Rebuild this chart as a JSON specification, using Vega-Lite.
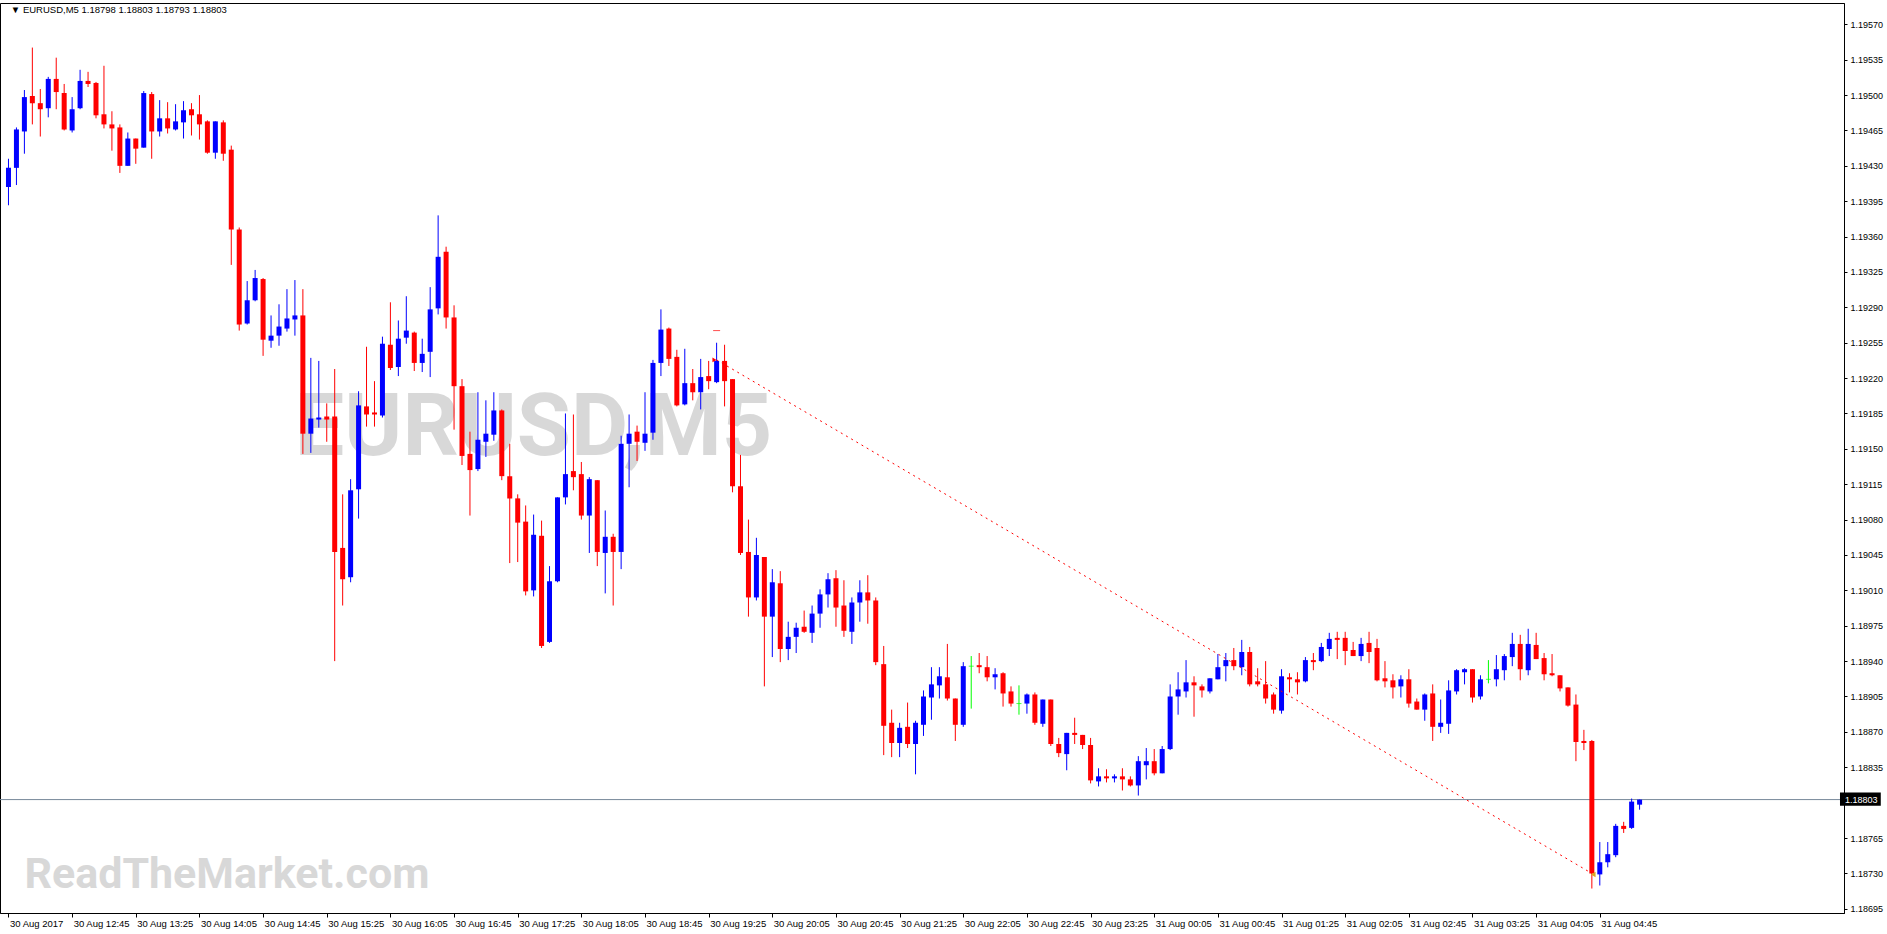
{
"$schema": "https://vega.github.io/schema/vega-lite/v6.json",
"width": 1844,
"height": 910,
"autosize": {"type": "none"},
"padding": {"left": 0, "top": 3, "right": 43, "bottom": 21},
"background": "#ffffff",
"config": {
  "view": {"stroke": "#000000", "strokeWidth": 1},
  "font": "Liberation Sans",
  "axis": {"labelFont": "Liberation Sans", "labelFontSize": 9, "labelColor": "#000000", "domainColor": "#000000", "tickColor": "#000000", "grid": false, "title": null, "labelFlush": false, "labelOverlap": false}
},
"layer": [
{
  "data": {"values": [
    {"t": "2017-08-30 17:35:00", "p": 1.19144, "label": "EURUSD,M5"}
  ], "format": {"parse": {"t": "utc:'%Y-%m-%d %H:%M:%S'"}}},
  "mark": {"type": "text", "font": "Roboto", "fontSize": 88, "fontWeight": "bold", "color": "#d8d8d8", "align": "center", "baseline": "alphabetic"},
  "encoding": {
    "x": {"field": "t", "type": "temporal", "scale": {"type": "utc", "domain": [{"year": 2017, "month": 8, "date": 30, "hours": 12, "minutes": 2, "seconds": 48, "milliseconds": 750, "utc": true}, {"year": 2017, "month": 8, "date": 31, "hours": 7, "minutes": 15, "seconds": 18, "milliseconds": 750, "utc": true}]}},
    "y": {"field": "p", "type": "quantitative", "scale": {"domain": [1.186908, 1.195911], "nice": false, "zero": false}},
    "text": {"field": "label"}
  }
},
{
  "data": {"values": [
    {"t": "2017-08-30 12:15:00", "p": 1.18716, "label": "ReadTheMarket.com"}
  ], "format": {"parse": {"t": "utc:'%Y-%m-%d %H:%M:%S'"}}},
  "mark": {"type": "text", "font": "Roboto", "fontSize": 43, "fontWeight": "bold", "color": "#d8d8d8", "align": "left", "baseline": "alphabetic"},
  "encoding": {
    "x": {"field": "t", "type": "temporal", "scale": {"type": "utc", "domain": [{"year": 2017, "month": 8, "date": 30, "hours": 12, "minutes": 2, "seconds": 48, "milliseconds": 750, "utc": true}, {"year": 2017, "month": 8, "date": 31, "hours": 7, "minutes": 15, "seconds": 18, "milliseconds": 750, "utc": true}]}},
    "y": {"field": "p", "type": "quantitative", "scale": {"domain": [1.186908, 1.195911], "nice": false, "zero": false}},
    "text": {"field": "label"}
  }
},
{
  "data": {"values": [
    {"t": "2017-08-30 12:06:30", "p": 1.19581, "label": "▼ EURUSD,M5  1.18798 1.18803 1.18793 1.18803"}
  ], "format": {"parse": {"t": "utc:'%Y-%m-%d %H:%M:%S'"}}},
  "mark": {"type": "text", "font": "Liberation Sans", "fontSize": 9.5, "color": "#000000", "align": "left", "baseline": "alphabetic"},
  "encoding": {
    "x": {"field": "t", "type": "temporal", "scale": {"type": "utc", "domain": [{"year": 2017, "month": 8, "date": 30, "hours": 12, "minutes": 2, "seconds": 48, "milliseconds": 750, "utc": true}, {"year": 2017, "month": 8, "date": 31, "hours": 7, "minutes": 15, "seconds": 18, "milliseconds": 750, "utc": true}]}},
    "y": {"field": "p", "type": "quantitative", "scale": {"domain": [1.186908, 1.195911], "nice": false, "zero": false}},
    "text": {"field": "label"}
  }
},
{
  "data": {"values": [{"p": 1.18803}]},
  "mark": {"type": "rule", "color": "#778899", "strokeWidth": 1},
  "encoding": {
    "y": {"field": "p", "type": "quantitative", "scale": {"domain": [1.186908, 1.195911], "nice": false, "zero": false}}
  }
},
{
  "data": {"values": [
{"t":"2017-08-30 12:05","o":1.19409,"h":1.19437,"l":1.19391,"c":1.19428},
{"t":"2017-08-30 12:10","o":1.19428,"h":1.19468,"l":1.19411,"c":1.19466},
{"t":"2017-08-30 12:15","o":1.19464,"h":1.19505,"l":1.19442,"c":1.19498},
{"t":"2017-08-30 12:20","o":1.19499,"h":1.19547,"l":1.19471,"c":1.19492},
{"t":"2017-08-30 12:25","o":1.19492,"h":1.19506,"l":1.19459,"c":1.19486},
{"t":"2017-08-30 12:30","o":1.19487,"h":1.19518,"l":1.19478,"c":1.19516},
{"t":"2017-08-30 12:35","o":1.19516,"h":1.19537,"l":1.19486,"c":1.19503},
{"t":"2017-08-30 12:40","o":1.19502,"h":1.19511,"l":1.19465,"c":1.19466},
{"t":"2017-08-30 12:45","o":1.19465,"h":1.19498,"l":1.19463,"c":1.19486},
{"t":"2017-08-30 12:50","o":1.19487,"h":1.19525,"l":1.19486,"c":1.19514},
{"t":"2017-08-30 12:55","o":1.19514,"h":1.19523,"l":1.19508,"c":1.19511},
{"t":"2017-08-30 13:00","o":1.19512,"h":1.19513,"l":1.19477,"c":1.19480},
{"t":"2017-08-30 13:05","o":1.19481,"h":1.19529,"l":1.19467,"c":1.19471},
{"t":"2017-08-30 13:10","o":1.19471,"h":1.19484,"l":1.19445,"c":1.19467},
{"t":"2017-08-30 13:15","o":1.19468,"h":1.19471,"l":1.19423,"c":1.19430},
{"t":"2017-08-30 13:20","o":1.19430,"h":1.19463,"l":1.19430,"c":1.19457},
{"t":"2017-08-30 13:25","o":1.19457,"h":1.19457,"l":1.19432,"c":1.19447},
{"t":"2017-08-30 13:30","o":1.19448,"h":1.19504,"l":1.19448,"c":1.19502},
{"t":"2017-08-30 13:35","o":1.19501,"h":1.19503,"l":1.19437,"c":1.19464},
{"t":"2017-08-30 13:40","o":1.19464,"h":1.19495,"l":1.19459,"c":1.19477},
{"t":"2017-08-30 13:45","o":1.19477,"h":1.19493,"l":1.19462,"c":1.19467},
{"t":"2017-08-30 13:50","o":1.19466,"h":1.19491,"l":1.19465,"c":1.19474},
{"t":"2017-08-30 13:55","o":1.19473,"h":1.19494,"l":1.19457,"c":1.19485},
{"t":"2017-08-30 14:00","o":1.19486,"h":1.19492,"l":1.19460,"c":1.19480},
{"t":"2017-08-30 14:05","o":1.19481,"h":1.19500,"l":1.19456,"c":1.19471},
{"t":"2017-08-30 14:10","o":1.19474,"h":1.19475,"l":1.19442,"c":1.19443},
{"t":"2017-08-30 14:15","o":1.19443,"h":1.19474,"l":1.19437,"c":1.19474},
{"t":"2017-08-30 14:20","o":1.19473,"h":1.19475,"l":1.19435,"c":1.19442},
{"t":"2017-08-30 14:25","o":1.19446,"h":1.19450,"l":1.19332,"c":1.19367},
{"t":"2017-08-30 14:30","o":1.19367,"h":1.19369,"l":1.19267,"c":1.19273},
{"t":"2017-08-30 14:35","o":1.19274,"h":1.19316,"l":1.19273,"c":1.19297},
{"t":"2017-08-30 14:40","o":1.19297,"h":1.19327,"l":1.19296,"c":1.19319},
{"t":"2017-08-30 14:45","o":1.19318,"h":1.19319,"l":1.19242,"c":1.19258},
{"t":"2017-08-30 14:50","o":1.19257,"h":1.19282,"l":1.19250,"c":1.19262},
{"t":"2017-08-30 14:55","o":1.19262,"h":1.19293,"l":1.19252,"c":1.19271},
{"t":"2017-08-30 15:00","o":1.19269,"h":1.19308,"l":1.19266,"c":1.19279},
{"t":"2017-08-30 15:05","o":1.19278,"h":1.19317,"l":1.19262,"c":1.19282},
{"t":"2017-08-30 15:10","o":1.19282,"h":1.19308,"l":1.19145,"c":1.19165},
{"t":"2017-08-30 15:15","o":1.19165,"h":1.19240,"l":1.19146,"c":1.19180},
{"t":"2017-08-30 15:20","o":1.19179,"h":1.19237,"l":1.19171,"c":1.19181},
{"t":"2017-08-30 15:25","o":1.19182,"h":1.19195,"l":1.19157,"c":1.19179},
{"t":"2017-08-30 15:30","o":1.19182,"h":1.19229,"l":1.18940,"c":1.19048},
{"t":"2017-08-30 15:35","o":1.19052,"h":1.19105,"l":1.18995,"c":1.19021},
{"t":"2017-08-30 15:40","o":1.19023,"h":1.19120,"l":1.19018,"c":1.19109},
{"t":"2017-08-30 15:45","o":1.19110,"h":1.19207,"l":1.19081,"c":1.19193},
{"t":"2017-08-30 15:50","o":1.19192,"h":1.19251,"l":1.19172,"c":1.19184},
{"t":"2017-08-30 15:55","o":1.19186,"h":1.19217,"l":1.19172,"c":1.19184},
{"t":"2017-08-30 16:00","o":1.19183,"h":1.19261,"l":1.19181,"c":1.19254},
{"t":"2017-08-30 16:05","o":1.19253,"h":1.19295,"l":1.19228,"c":1.19230},
{"t":"2017-08-30 16:10","o":1.19231,"h":1.19277,"l":1.19222,"c":1.19259},
{"t":"2017-08-30 16:15","o":1.19260,"h":1.19301,"l":1.19254,"c":1.19267},
{"t":"2017-08-30 16:20","o":1.19265,"h":1.19266,"l":1.19227,"c":1.19235},
{"t":"2017-08-30 16:25","o":1.19235,"h":1.19259,"l":1.19226,"c":1.19244},
{"t":"2017-08-30 16:30","o":1.19246,"h":1.19310,"l":1.19221,"c":1.19288},
{"t":"2017-08-30 16:35","o":1.19289,"h":1.19381,"l":1.19283,"c":1.19340},
{"t":"2017-08-30 16:40","o":1.19345,"h":1.19350,"l":1.19269,"c":1.19280},
{"t":"2017-08-30 16:45","o":1.19280,"h":1.19292,"l":1.19169,"c":1.19212},
{"t":"2017-08-30 16:50","o":1.19212,"h":1.19219,"l":1.19134,"c":1.19143},
{"t":"2017-08-30 16:55","o":1.19145,"h":1.19167,"l":1.19084,"c":1.19129},
{"t":"2017-08-30 17:00","o":1.19130,"h":1.19206,"l":1.19128,"c":1.19159},
{"t":"2017-08-30 17:05","o":1.19157,"h":1.19198,"l":1.19142,"c":1.19165},
{"t":"2017-08-30 17:10","o":1.19164,"h":1.19206,"l":1.19158,"c":1.19188},
{"t":"2017-08-30 17:15","o":1.19188,"h":1.19189,"l":1.19119,"c":1.19123},
{"t":"2017-08-30 17:20","o":1.19123,"h":1.19155,"l":1.19037,"c":1.19101},
{"t":"2017-08-30 17:25","o":1.19101,"h":1.19105,"l":1.19038,"c":1.19077},
{"t":"2017-08-30 17:30","o":1.19078,"h":1.19094,"l":1.19005,"c":1.19009},
{"t":"2017-08-30 17:35","o":1.19010,"h":1.19085,"l":1.19004,"c":1.19065},
{"t":"2017-08-30 17:40","o":1.19064,"h":1.19079,"l":1.18953,"c":1.18955},
{"t":"2017-08-30 17:45","o":1.18959,"h":1.19034,"l":1.18958,"c":1.19019},
{"t":"2017-08-30 17:50","o":1.19019,"h":1.19102,"l":1.19018,"c":1.19102},
{"t":"2017-08-30 17:55","o":1.19102,"h":1.19185,"l":1.19095,"c":1.19125},
{"t":"2017-08-30 18:00","o":1.19128,"h":1.19184,"l":1.19109,"c":1.19122},
{"t":"2017-08-30 18:05","o":1.19125,"h":1.19137,"l":1.19080,"c":1.19084},
{"t":"2017-08-30 18:10","o":1.19084,"h":1.19122,"l":1.19047,"c":1.19120},
{"t":"2017-08-30 18:15","o":1.19119,"h":1.19119,"l":1.19034,"c":1.19048},
{"t":"2017-08-30 18:20","o":1.19047,"h":1.19089,"l":1.19007,"c":1.19063},
{"t":"2017-08-30 18:25","o":1.19063,"h":1.19066,"l":1.18995,"c":1.19048},
{"t":"2017-08-30 18:30","o":1.19048,"h":1.19163,"l":1.19031,"c":1.19155},
{"t":"2017-08-30 18:35","o":1.19155,"h":1.19184,"l":1.19112,"c":1.19165},
{"t":"2017-08-30 18:40","o":1.19167,"h":1.19173,"l":1.19138,"c":1.19157},
{"t":"2017-08-30 18:45","o":1.19156,"h":1.19206,"l":1.19148,"c":1.19165},
{"t":"2017-08-30 18:50","o":1.19166,"h":1.19238,"l":1.19159,"c":1.19235},
{"t":"2017-08-30 18:55","o":1.19235,"h":1.19288,"l":1.19222,"c":1.19268},
{"t":"2017-08-30 19:00","o":1.19269,"h":1.19270,"l":1.19232,"c":1.19239},
{"t":"2017-08-30 19:05","o":1.19241,"h":1.19248,"l":1.19192,"c":1.19193},
{"t":"2017-08-30 19:10","o":1.19194,"h":1.19249,"l":1.19193,"c":1.19215},
{"t":"2017-08-30 19:15","o":1.19215,"h":1.19229,"l":1.19198,"c":1.19206},
{"t":"2017-08-30 19:20","o":1.19206,"h":1.19239,"l":1.19189,"c":1.19221},
{"t":"2017-08-30 19:25","o":1.19222,"h":1.19237,"l":1.19209,"c":1.19217},
{"t":"2017-08-30 19:30","o":1.19216,"h":1.19255,"l":1.19215,"c":1.19237},
{"t":"2017-08-30 19:35","o":1.19237,"h":1.19253,"l":1.19192,"c":1.19217},
{"t":"2017-08-30 19:40","o":1.19219,"h":1.19219,"l":1.19107,"c":1.19113},
{"t":"2017-08-30 19:45","o":1.19113,"h":1.19144,"l":1.19045,"c":1.19047},
{"t":"2017-08-30 19:50","o":1.19048,"h":1.19080,"l":1.18984,"c":1.19003},
{"t":"2017-08-30 19:55","o":1.19003,"h":1.19062,"l":1.19000,"c":1.19045},
{"t":"2017-08-30 20:00","o":1.19043,"h":1.19043,"l":1.18915,"c":1.18984},
{"t":"2017-08-30 20:05","o":1.18984,"h":1.19031,"l":1.18944,"c":1.19018},
{"t":"2017-08-30 20:10","o":1.19017,"h":1.19029,"l":1.18939,"c":1.18952},
{"t":"2017-08-30 20:15","o":1.18952,"h":1.18979,"l":1.18941,"c":1.18964},
{"t":"2017-08-30 20:20","o":1.18964,"h":1.18978,"l":1.18948,"c":1.18973},
{"t":"2017-08-30 20:25","o":1.18974,"h":1.18990,"l":1.18968,"c":1.18969},
{"t":"2017-08-30 20:30","o":1.18968,"h":1.18995,"l":1.18958,"c":1.18987},
{"t":"2017-08-30 20:35","o":1.18987,"h":1.19011,"l":1.18973,"c":1.19006},
{"t":"2017-08-30 20:40","o":1.19006,"h":1.19027,"l":1.18993,"c":1.19021},
{"t":"2017-08-30 20:45","o":1.19022,"h":1.19030,"l":1.18974,"c":1.18993},
{"t":"2017-08-30 20:50","o":1.18995,"h":1.19020,"l":1.18964,"c":1.18970},
{"t":"2017-08-30 20:55","o":1.18969,"h":1.19003,"l":1.18957,"c":1.18998},
{"t":"2017-08-30 21:00","o":1.18998,"h":1.19020,"l":1.18979,"c":1.19008},
{"t":"2017-08-30 21:05","o":1.19008,"h":1.19025,"l":1.18977,"c":1.19000},
{"t":"2017-08-30 21:10","o":1.19000,"h":1.19003,"l":1.18936,"c":1.18939},
{"t":"2017-08-30 21:15","o":1.18937,"h":1.18955,"l":1.18847,"c":1.18876},
{"t":"2017-08-30 21:20","o":1.18879,"h":1.18892,"l":1.18845,"c":1.18859},
{"t":"2017-08-30 21:25","o":1.18859,"h":1.18879,"l":1.18845,"c":1.18874},
{"t":"2017-08-30 21:30","o":1.18875,"h":1.18899,"l":1.18854,"c":1.18858},
{"t":"2017-08-30 21:35","o":1.18858,"h":1.18881,"l":1.18828,"c":1.18879},
{"t":"2017-08-30 21:40","o":1.18877,"h":1.18911,"l":1.18866,"c":1.18905},
{"t":"2017-08-30 21:45","o":1.18904,"h":1.18934,"l":1.18882,"c":1.18917},
{"t":"2017-08-30 21:50","o":1.18916,"h":1.18934,"l":1.18903,"c":1.18925},
{"t":"2017-08-30 21:55","o":1.18924,"h":1.18957,"l":1.18901,"c":1.18903},
{"t":"2017-08-30 22:00","o":1.18903,"h":1.18903,"l":1.18861,"c":1.18877},
{"t":"2017-08-30 22:05","o":1.18877,"h":1.18939,"l":1.18875,"c":1.18935},
{"t":"2017-08-30 22:10","o":1.18935,"h":1.18945,"l":1.18893,"c":1.18935},
{"t":"2017-08-30 22:15","o":1.18936,"h":1.18948,"l":1.18928,"c":1.18934},
{"t":"2017-08-30 22:20","o":1.18934,"h":1.18945,"l":1.18920,"c":1.18924},
{"t":"2017-08-30 22:25","o":1.18924,"h":1.18933,"l":1.18912,"c":1.18927},
{"t":"2017-08-30 22:30","o":1.18928,"h":1.18929,"l":1.18895,"c":1.18908},
{"t":"2017-08-30 22:35","o":1.18910,"h":1.18915,"l":1.18895,"c":1.18898},
{"t":"2017-08-30 22:40","o":1.18898,"h":1.18916,"l":1.18887,"c":1.18898},
{"t":"2017-08-30 22:45","o":1.18898,"h":1.18908,"l":1.18888,"c":1.18907},
{"t":"2017-08-30 22:50","o":1.18907,"h":1.18909,"l":1.18877,"c":1.18879},
{"t":"2017-08-30 22:55","o":1.18878,"h":1.18902,"l":1.18875,"c":1.18902},
{"t":"2017-08-30 23:00","o":1.18902,"h":1.18902,"l":1.18856,"c":1.18858},
{"t":"2017-08-30 23:05","o":1.18858,"h":1.18864,"l":1.18845,"c":1.18849},
{"t":"2017-08-30 23:10","o":1.18848,"h":1.18869,"l":1.18832,"c":1.18869},
{"t":"2017-08-30 23:15","o":1.18869,"h":1.18884,"l":1.18858,"c":1.18867},
{"t":"2017-08-30 23:20","o":1.18867,"h":1.18867,"l":1.18853,"c":1.18857},
{"t":"2017-08-30 23:25","o":1.18857,"h":1.18864,"l":1.18819,"c":1.18822},
{"t":"2017-08-30 23:30","o":1.18821,"h":1.18834,"l":1.18816,"c":1.18826},
{"t":"2017-08-30 23:35","o":1.18826,"h":1.18833,"l":1.18820,"c":1.18824},
{"t":"2017-08-30 23:40","o":1.18824,"h":1.18828,"l":1.18820,"c":1.18826},
{"t":"2017-08-30 23:45","o":1.18826,"h":1.18834,"l":1.18812,"c":1.18823},
{"t":"2017-08-30 23:50","o":1.18823,"h":1.18826,"l":1.18816,"c":1.18817},
{"t":"2017-08-30 23:55","o":1.18817,"h":1.18846,"l":1.18807,"c":1.18841},
{"t":"2017-08-31 00:00","o":1.18837,"h":1.18854,"l":1.18823,"c":1.18841},
{"t":"2017-08-31 00:05","o":1.18841,"h":1.18853,"l":1.18827,"c":1.18829},
{"t":"2017-08-31 00:10","o":1.18829,"h":1.18856,"l":1.18829,"c":1.18853},
{"t":"2017-08-31 00:15","o":1.18853,"h":1.18917,"l":1.18852,"c":1.18905},
{"t":"2017-08-31 00:20","o":1.18905,"h":1.18929,"l":1.18887,"c":1.18912},
{"t":"2017-08-31 00:25","o":1.18910,"h":1.18941,"l":1.18904,"c":1.18919},
{"t":"2017-08-31 00:30","o":1.18919,"h":1.18925,"l":1.18885,"c":1.18916},
{"t":"2017-08-31 00:35","o":1.18915,"h":1.18917,"l":1.18904,"c":1.18911},
{"t":"2017-08-31 00:40","o":1.18910,"h":1.18923,"l":1.18908,"c":1.18923},
{"t":"2017-08-31 00:45","o":1.18922,"h":1.18947,"l":1.18922,"c":1.18934},
{"t":"2017-08-31 00:50","o":1.18935,"h":1.18948,"l":1.18920,"c":1.18941},
{"t":"2017-08-31 00:55","o":1.18941,"h":1.18953,"l":1.18931,"c":1.18935},
{"t":"2017-08-31 01:00","o":1.18934,"h":1.18961,"l":1.18926,"c":1.18949},
{"t":"2017-08-31 01:05","o":1.18949,"h":1.18954,"l":1.18915,"c":1.18917},
{"t":"2017-08-31 01:10","o":1.18920,"h":1.18933,"l":1.18915,"c":1.18917},
{"t":"2017-08-31 01:15","o":1.18917,"h":1.18940,"l":1.18898,"c":1.18903},
{"t":"2017-08-31 01:20","o":1.18907,"h":1.18909,"l":1.18888,"c":1.18892},
{"t":"2017-08-31 01:25","o":1.18891,"h":1.18932,"l":1.18888,"c":1.18925},
{"t":"2017-08-31 01:30","o":1.18924,"h":1.18928,"l":1.18909,"c":1.18922},
{"t":"2017-08-31 01:35","o":1.18922,"h":1.18929,"l":1.18907,"c":1.18919},
{"t":"2017-08-31 01:40","o":1.18920,"h":1.18944,"l":1.18919,"c":1.18941},
{"t":"2017-08-31 01:45","o":1.18941,"h":1.18948,"l":1.18931,"c":1.18939},
{"t":"2017-08-31 01:50","o":1.18940,"h":1.18958,"l":1.18939,"c":1.18954},
{"t":"2017-08-31 01:55","o":1.18952,"h":1.18968,"l":1.18945,"c":1.18962},
{"t":"2017-08-31 02:00","o":1.18963,"h":1.18969,"l":1.18942,"c":1.18961},
{"t":"2017-08-31 02:05","o":1.18963,"h":1.18969,"l":1.18936,"c":1.18950},
{"t":"2017-08-31 02:10","o":1.18951,"h":1.18959,"l":1.18945,"c":1.18945},
{"t":"2017-08-31 02:15","o":1.18945,"h":1.18963,"l":1.18940,"c":1.18957},
{"t":"2017-08-31 02:20","o":1.18958,"h":1.18969,"l":1.18938,"c":1.18949},
{"t":"2017-08-31 02:25","o":1.18953,"h":1.18962,"l":1.18920,"c":1.18921},
{"t":"2017-08-31 02:30","o":1.18923,"h":1.18940,"l":1.18914,"c":1.18920},
{"t":"2017-08-31 02:35","o":1.18921,"h":1.18927,"l":1.18903,"c":1.18914},
{"t":"2017-08-31 02:40","o":1.18915,"h":1.18926,"l":1.18904,"c":1.18922},
{"t":"2017-08-31 02:45","o":1.18922,"h":1.18932,"l":1.18894,"c":1.18898},
{"t":"2017-08-31 02:50","o":1.18900,"h":1.18903,"l":1.18892,"c":1.18892},
{"t":"2017-08-31 02:55","o":1.18892,"h":1.18908,"l":1.18881,"c":1.18907},
{"t":"2017-08-31 03:00","o":1.18908,"h":1.18917,"l":1.18861,"c":1.18875},
{"t":"2017-08-31 03:05","o":1.18875,"h":1.18902,"l":1.18869,"c":1.18879},
{"t":"2017-08-31 03:10","o":1.18878,"h":1.18921,"l":1.18868,"c":1.18911},
{"t":"2017-08-31 03:15","o":1.18910,"h":1.18932,"l":1.18907,"c":1.18931},
{"t":"2017-08-31 03:20","o":1.18929,"h":1.18933,"l":1.18917,"c":1.18932},
{"t":"2017-08-31 03:25","o":1.18932,"h":1.18932,"l":1.18899,"c":1.18904},
{"t":"2017-08-31 03:30","o":1.18905,"h":1.18926,"l":1.18902,"c":1.18922},
{"t":"2017-08-31 03:35","o":1.18922,"h":1.18941,"l":1.18918,"c":1.18922},
{"t":"2017-08-31 03:40","o":1.18922,"h":1.18946,"l":1.18915,"c":1.18932},
{"t":"2017-08-31 03:45","o":1.18931,"h":1.18947,"l":1.18921,"c":1.18945},
{"t":"2017-08-31 03:50","o":1.18944,"h":1.18968,"l":1.18935,"c":1.18957},
{"t":"2017-08-31 03:55","o":1.18957,"h":1.18966,"l":1.18921,"c":1.18932},
{"t":"2017-08-31 04:00","o":1.18931,"h":1.18972,"l":1.18926,"c":1.18957},
{"t":"2017-08-31 04:05","o":1.18956,"h":1.18968,"l":1.18942,"c":1.18942},
{"t":"2017-08-31 04:10","o":1.18943,"h":1.18948,"l":1.18921,"c":1.18927},
{"t":"2017-08-31 04:15","o":1.18928,"h":1.18947,"l":1.18925,"c":1.18926},
{"t":"2017-08-31 04:20","o":1.18926,"h":1.18926,"l":1.18910,"c":1.18913},
{"t":"2017-08-31 04:25","o":1.18914,"h":1.18914,"l":1.18895,"c":1.18896},
{"t":"2017-08-31 04:30","o":1.18897,"h":1.18907,"l":1.18841,"c":1.18860},
{"t":"2017-08-31 04:35","o":1.18861,"h":1.18872,"l":1.18852,"c":1.18859},
{"t":"2017-08-31 04:40","o":1.18861,"h":1.18862,"l":1.18715,"c":1.18730},
{"t":"2017-08-31 04:45","o":1.18729,"h":1.18761,"l":1.18718,"c":1.18741},
{"t":"2017-08-31 04:50","o":1.18741,"h":1.18761,"l":1.18736,"c":1.18749},
{"t":"2017-08-31 04:55","o":1.18748,"h":1.18779,"l":1.18746,"c":1.18777},
{"t":"2017-08-31 05:00","o":1.18777,"h":1.18781,"l":1.18770,"c":1.18774},
{"t":"2017-08-31 05:05","o":1.18775,"h":1.18804,"l":1.18774,"c":1.18801},
{"t":"2017-08-31 05:10","o":1.18798,"h":1.18803,"l":1.18793,"c":1.18803}
  ], "format": {"parse": {"t": "utc:'%Y-%m-%d %H:%M'"}}},
  "layer": [
    {
      "mark": {"type": "rule", "strokeWidth": 1},
      "encoding": {
        "x": {"field": "t", "type": "temporal", "scale": {"type": "utc", "domain": [{"year": 2017, "month": 8, "date": 30, "hours": 12, "minutes": 2, "seconds": 48, "milliseconds": 750, "utc": true}, {"year": 2017, "month": 8, "date": 31, "hours": 7, "minutes": 15, "seconds": 18, "milliseconds": 750, "utc": true}]},
          "axis": {"orient": "bottom", "tickSize": 4, "tickCount": 40, "labelAlign": "left", "labelPadding": 1, "labelOffset": 1, "labelFontSize": 9.5, "labelOverlap": false, "labelFlush": false,
            "values": [
              {"year": 2017, "month": 8, "date": 30, "hours": 12, "minutes": 5, "utc": true},
              {"year": 2017, "month": 8, "date": 30, "hours": 12, "minutes": 45, "utc": true},
              {"year": 2017, "month": 8, "date": 30, "hours": 13, "minutes": 25, "utc": true},
              {"year": 2017, "month": 8, "date": 30, "hours": 14, "minutes": 5, "utc": true},
              {"year": 2017, "month": 8, "date": 30, "hours": 14, "minutes": 45, "utc": true},
              {"year": 2017, "month": 8, "date": 30, "hours": 15, "minutes": 25, "utc": true},
              {"year": 2017, "month": 8, "date": 30, "hours": 16, "minutes": 5, "utc": true},
              {"year": 2017, "month": 8, "date": 30, "hours": 16, "minutes": 45, "utc": true},
              {"year": 2017, "month": 8, "date": 30, "hours": 17, "minutes": 25, "utc": true},
              {"year": 2017, "month": 8, "date": 30, "hours": 18, "minutes": 5, "utc": true},
              {"year": 2017, "month": 8, "date": 30, "hours": 18, "minutes": 45, "utc": true},
              {"year": 2017, "month": 8, "date": 30, "hours": 19, "minutes": 25, "utc": true},
              {"year": 2017, "month": 8, "date": 30, "hours": 20, "minutes": 5, "utc": true},
              {"year": 2017, "month": 8, "date": 30, "hours": 20, "minutes": 45, "utc": true},
              {"year": 2017, "month": 8, "date": 30, "hours": 21, "minutes": 25, "utc": true},
              {"year": 2017, "month": 8, "date": 30, "hours": 22, "minutes": 5, "utc": true},
              {"year": 2017, "month": 8, "date": 30, "hours": 22, "minutes": 45, "utc": true},
              {"year": 2017, "month": 8, "date": 30, "hours": 23, "minutes": 25, "utc": true},
              {"year": 2017, "month": 8, "date": 31, "hours": 0, "minutes": 5, "utc": true},
              {"year": 2017, "month": 8, "date": 31, "hours": 0, "minutes": 45, "utc": true},
              {"year": 2017, "month": 8, "date": 31, "hours": 1, "minutes": 25, "utc": true},
              {"year": 2017, "month": 8, "date": 31, "hours": 2, "minutes": 5, "utc": true},
              {"year": 2017, "month": 8, "date": 31, "hours": 2, "minutes": 45, "utc": true},
              {"year": 2017, "month": 8, "date": 31, "hours": 3, "minutes": 25, "utc": true},
              {"year": 2017, "month": 8, "date": 31, "hours": 4, "minutes": 5, "utc": true},
              {"year": 2017, "month": 8, "date": 31, "hours": 4, "minutes": 45, "utc": true}
            ],
            "labelExpr": "utcFormat(datum.value, '%d %H:%M') == '30 12:05' ? '30 Aug 2017' : utcFormat(datum.value, '%d %b %H:%M')"}},
        "y": {"field": "l", "type": "quantitative", "scale": {"domain": [1.186908, 1.195911], "nice": false, "zero": false},
          "axis": {"orient": "right", "tickSize": 3, "tickCount": 40, "labelPadding": 3, "format": ".5f", "labelOverlap": false, "labelFlush": false,
            "values": [1.18695, 1.1873, 1.18765, 1.18835, 1.1887, 1.18905, 1.1894, 1.18975, 1.1901, 1.19045, 1.1908, 1.19115, 1.1915, 1.19185, 1.1922, 1.19255, 1.1929, 1.19325, 1.1936, 1.19395, 1.1943, 1.19465, 1.195, 1.19535, 1.1957]}},
        "y2": {"field": "h"},
        "color": {"condition": [{"test": "datum.c > datum.o", "value": "#0000ff"}, {"test": "datum.c < datum.o", "value": "#ff0000"}], "value": "#00ff00"}
      }
    },
    {
      "mark": {"type": "bar", "width": 5},
      "encoding": {
        "x": {"field": "t", "type": "temporal", "scale": {"type": "utc", "domain": [{"year": 2017, "month": 8, "date": 30, "hours": 12, "minutes": 2, "seconds": 48, "milliseconds": 750, "utc": true}, {"year": 2017, "month": 8, "date": 31, "hours": 7, "minutes": 15, "seconds": 18, "milliseconds": 750, "utc": true}]}},
        "y": {"field": "o", "type": "quantitative", "scale": {"domain": [1.186908, 1.195911], "nice": false, "zero": false}},
        "y2": {"field": "c"},
        "color": {"condition": [{"test": "datum.c > datum.o", "value": "#0000ff"}, {"test": "datum.c < datum.o", "value": "#ff0000"}], "value": "#00ff00"}
      }
    },
    {
      "transform": [{"filter": "datum.o == datum.c"}],
      "mark": {"type": "tick", "orient": "horizontal", "size": 5, "thickness": 1, "color": "#00ff00"},
      "encoding": {
        "x": {"field": "t", "type": "temporal", "scale": {"type": "utc", "domain": [{"year": 2017, "month": 8, "date": 30, "hours": 12, "minutes": 2, "seconds": 48, "milliseconds": 750, "utc": true}, {"year": 2017, "month": 8, "date": 31, "hours": 7, "minutes": 15, "seconds": 18, "milliseconds": 750, "utc": true}]}},
        "y": {"field": "c", "type": "quantitative", "scale": {"domain": [1.186908, 1.195911], "nice": false, "zero": false}}
      }
    }
  ]
},
{
  "data": {"values": [
    {"t": "2017-08-30 19:30:00", "p": 1.19238, "t2": "2017-08-31 04:40:00", "p2": 1.18730}
  ], "format": {"parse": {"t": "utc:'%Y-%m-%d %H:%M:%S'", "t2": "utc:'%Y-%m-%d %H:%M:%S'"}}},
  "mark": {"type": "rule", "color": "#ff0000", "strokeWidth": 1, "strokeDash": [2, 4]},
  "encoding": {
    "x": {"field": "t", "type": "temporal", "scale": {"type": "utc", "domain": [{"year": 2017, "month": 8, "date": 30, "hours": 12, "minutes": 2, "seconds": 48, "milliseconds": 750, "utc": true}, {"year": 2017, "month": 8, "date": 31, "hours": 7, "minutes": 15, "seconds": 18, "milliseconds": 750, "utc": true}]}},
    "x2": {"field": "t2"},
    "y": {"field": "p", "type": "quantitative", "scale": {"domain": [1.186908, 1.195911], "nice": false, "zero": false}},
    "y2": {"field": "p2"}
  }
},
{
  "data": {"values": [
    {"t": "2017-08-30 19:30:00", "p": 1.19267}
  ], "format": {"parse": {"t": "utc:'%Y-%m-%d %H:%M:%S'"}}},
  "mark": {"type": "tick", "orient": "horizontal", "size": 7, "thickness": 1, "color": "#ff0000"},
  "encoding": {
    "x": {"field": "t", "type": "temporal", "scale": {"type": "utc", "domain": [{"year": 2017, "month": 8, "date": 30, "hours": 12, "minutes": 2, "seconds": 48, "milliseconds": 750, "utc": true}, {"year": 2017, "month": 8, "date": 31, "hours": 7, "minutes": 15, "seconds": 18, "milliseconds": 750, "utc": true}]}},
    "y": {"field": "p", "type": "quantitative", "scale": {"domain": [1.186908, 1.195911], "nice": false, "zero": false}}
  }
},
{
  "data": {"values": [
    {"t": "2017-08-30 19:28:40", "p": 1.19238, "kind": "open"}
  ], "format": {"parse": {"t": "utc:'%Y-%m-%d %H:%M:%S'"}}},
  "mark": {"type": "point", "shape": "triangle-right", "size": 22, "filled": true, "color": "#ff0000", "opacity": 1},
  "encoding": {
    "x": {"field": "t", "type": "temporal", "scale": {"type": "utc", "domain": [{"year": 2017, "month": 8, "date": 30, "hours": 12, "minutes": 2, "seconds": 48, "milliseconds": 750, "utc": true}, {"year": 2017, "month": 8, "date": 31, "hours": 7, "minutes": 15, "seconds": 18, "milliseconds": 750, "utc": true}]}},
    "y": {"field": "p", "type": "quantitative", "scale": {"domain": [1.186908, 1.195911], "nice": false, "zero": false}}
  }
},
{
  "data": {"values": [
    {"t": "2017-08-31 04:40:50", "p": 1.18729, "kind": "close"}
  ], "format": {"parse": {"t": "utc:'%Y-%m-%d %H:%M:%S'"}}},
  "mark": {"type": "point", "shape": "triangle-left", "size": 30, "filled": true, "color": "#daa520", "opacity": 1},
  "encoding": {
    "x": {"field": "t", "type": "temporal", "scale": {"type": "utc", "domain": [{"year": 2017, "month": 8, "date": 30, "hours": 12, "minutes": 2, "seconds": 48, "milliseconds": 750, "utc": true}, {"year": 2017, "month": 8, "date": 31, "hours": 7, "minutes": 15, "seconds": 18, "milliseconds": 750, "utc": true}]}},
    "y": {"field": "p", "type": "quantitative", "scale": {"domain": [1.186908, 1.195911], "nice": false, "zero": false}}
  }
},
{
  "data": {"values": [
    {"t": "2017-08-31 07:15:56", "t2": "2017-08-31 07:41:34", "p": 1.18810, "p2": 1.18797}
  ], "format": {"parse": {"t": "utc:'%Y-%m-%d %H:%M:%S'", "t2": "utc:'%Y-%m-%d %H:%M:%S'"}}},
  "mark": {"type": "rect", "color": "#000000", "clip": false},
  "encoding": {
    "x": {"field": "t", "type": "temporal", "scale": {"type": "utc", "domain": [{"year": 2017, "month": 8, "date": 30, "hours": 12, "minutes": 2, "seconds": 48, "milliseconds": 750, "utc": true}, {"year": 2017, "month": 8, "date": 31, "hours": 7, "minutes": 15, "seconds": 18, "milliseconds": 750, "utc": true}]}},
    "x2": {"field": "t2"},
    "y": {"field": "p", "type": "quantitative", "scale": {"domain": [1.186908, 1.195911], "nice": false, "zero": false}},
    "y2": {"field": "p2"}
  }
},
{
  "data": {"values": [
    {"t": "2017-08-31 07:19:04", "p": 1.18803, "label": "1.18803"}
  ], "format": {"parse": {"t": "utc:'%Y-%m-%d %H:%M:%S'"}}},
  "mark": {"type": "text", "font": "Liberation Sans", "fontSize": 9, "color": "#ffffff", "align": "left", "baseline": "middle", "clip": false},
  "encoding": {
    "x": {"field": "t", "type": "temporal", "scale": {"type": "utc", "domain": [{"year": 2017, "month": 8, "date": 30, "hours": 12, "minutes": 2, "seconds": 48, "milliseconds": 750, "utc": true}, {"year": 2017, "month": 8, "date": 31, "hours": 7, "minutes": 15, "seconds": 18, "milliseconds": 750, "utc": true}]}},
    "y": {"field": "p", "type": "quantitative", "scale": {"domain": [1.186908, 1.195911], "nice": false, "zero": false}},
    "text": {"field": "label"}
  }
}
]
}
